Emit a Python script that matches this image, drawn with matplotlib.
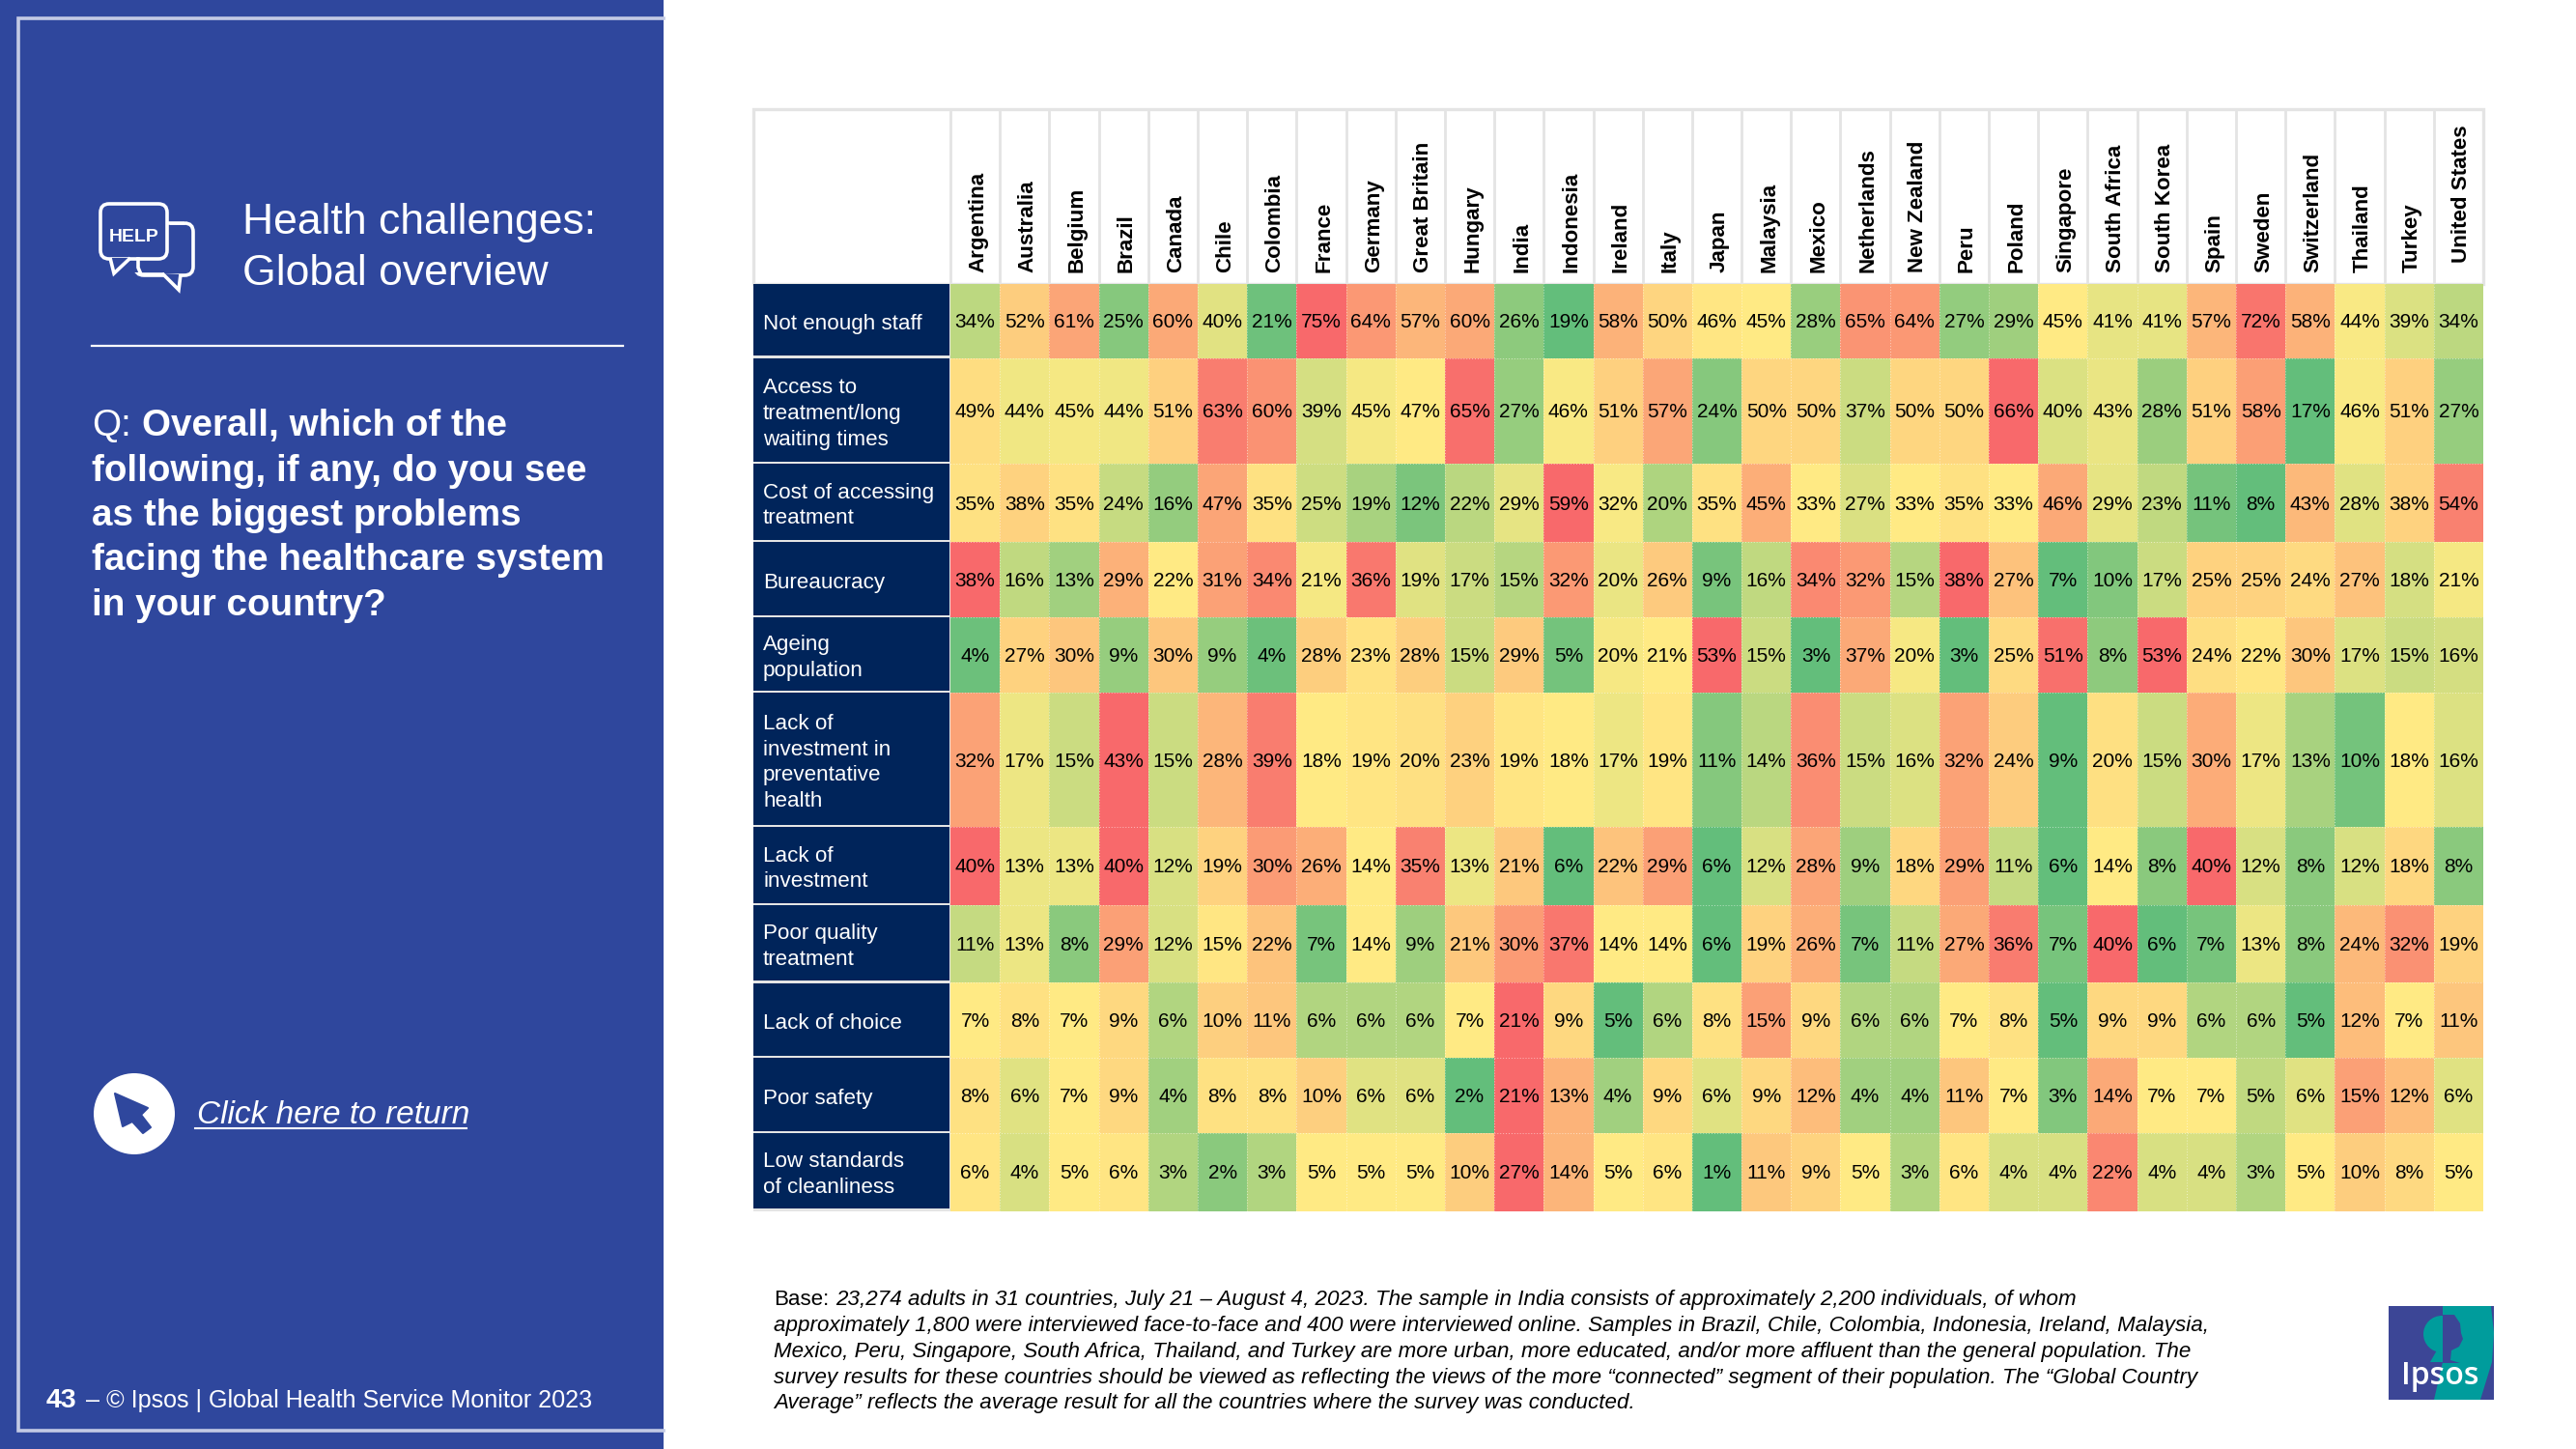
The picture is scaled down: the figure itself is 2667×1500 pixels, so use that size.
import matplotlib
matplotlib.use("Agg")
import matplotlib.pyplot as plt
import numpy as np
from matplotlib.colors import LinearSegmentedColormap
from matplotlib.patches import Circle, FancyBboxPatch, Polygon, Rectangle

plt.rcParams["font.family"] = ["Liberation Sans", "DejaVu Sans"]

countries = [
    "Argentina", "Australia", "Belgium", "Brazil", "Canada", "Chile", "Colombia",
    "France", "Germany", "Great Britain", "Hungary", "India", "Indonesia", "Ireland",
    "Italy", "Japan", "Malaysia", "Mexico", "Netherlands", "New Zealand", "Peru",
    "Poland", "Singapore", "South Africa", "South Korea", "Spain", "Sweden",
    "Switzerland", "Thailand", "Turkey", "United States",
]
problems = [
    "Not enough staff",
    "Access to\ntreatment/long\nwaiting times",
    "Cost of accessing\ntreatment",
    "Bureaucracy",
    "Ageing\npopulation",
    "Lack of\ninvestment in\npreventative\nhealth",
    "Lack of\ninvestment",
    "Poor quality\ntreatment",
    "Lack of choice",
    "Poor safety",
    "Low standards\nof cleanliness",
]
not_enough_staff = [34, 52, 61, 25, 60, 40, 21, 75, 64, 57, 60, 26, 19, 58, 50, 46, 45, 28, 65, 64, 27, 29, 45, 41, 41, 57, 72, 58, 44, 39, 34]
access_to_treatment = [49, 44, 45, 44, 51, 63, 60, 39, 45, 47, 65, 27, 46, 51, 57, 24, 50, 50, 37, 50, 50, 66, 40, 43, 28, 51, 58, 17, 46, 51, 27]
cost_of_access = [35, 38, 35, 24, 16, 47, 35, 25, 19, 12, 22, 29, 59, 32, 20, 35, 45, 33, 27, 33, 35, 33, 46, 29, 23, 11, 8, 43, 28, 38, 54]
bureaucracy = [38, 16, 13, 29, 22, 31, 34, 21, 36, 19, 17, 15, 32, 20, 26, 9, 16, 34, 32, 15, 38, 27, 7, 10, 17, 25, 25, 24, 27, 18, 21]
ageing_population = [4, 27, 30, 9, 30, 9, 4, 28, 23, 28, 15, 29, 5, 20, 21, 53, 15, 3, 37, 20, 3, 25, 51, 8, 53, 24, 22, 30, 17, 15, 16]
preventative_health = [32, 17, 15, 43, 15, 28, 39, 18, 19, 20, 23, 19, 18, 17, 19, 11, 14, 36, 15, 16, 32, 24, 9, 20, 15, 30, 17, 13, 10, 18, 16]
lack_of_investment = [40, 13, 13, 40, 12, 19, 30, 26, 14, 35, 13, 21, 6, 22, 29, 6, 12, 28, 9, 18, 29, 11, 6, 14, 8, 40, 12, 8, 12, 18, 8]
poor_quality = [11, 13, 8, 29, 12, 15, 22, 7, 14, 9, 21, 30, 37, 14, 14, 6, 19, 26, 7, 11, 27, 36, 7, 40, 6, 7, 13, 8, 24, 32, 19]
lack_of_choice = [7, 8, 7, 9, 6, 10, 11, 6, 6, 6, 7, 21, 9, 5, 6, 8, 15, 9, 6, 6, 7, 8, 5, 9, 9, 6, 6, 5, 12, 7, 11]
poor_safety = [8, 6, 7, 9, 4, 8, 8, 10, 6, 6, 2, 21, 13, 4, 9, 6, 9, 12, 4, 4, 11, 7, 3, 14, 7, 7, 5, 6, 15, 12, 6]
low_standards = [6, 4, 5, 6, 3, 2, 3, 5, 5, 5, 10, 27, 14, 5, 6, 1, 11, 9, 5, 3, 6, 4, 4, 22, 4, 4, 3, 5, 10, 8, 5]

rows = [
    not_enough_staff, access_to_treatment, cost_of_access, bureaucracy,
    ageing_population, preventative_health, lack_of_investment, poor_quality,
    lack_of_choice, poor_safety, low_standards,
]

question_lines = ["Overall, which of the", "following, if any, do you see", "as the biggest problems",
                  "facing the healthcare system", "in your country?"]
base_lines = [
    "23,274 adults in 31 countries, July 21 \u2013 August 4, 2023. The sample in India consists of approximately 2,200 individuals, of whom",
    "approximately 1,800 were interviewed face-to-face and 400 were interviewed online. Samples in Brazil, Chile, Colombia, Indonesia, Ireland, Malaysia,",
    "Mexico, Peru, Singapore, South Africa, Thailand, and Turkey are more urban, more educated, and/or more affluent than the general population. The",
    "survey results for these countries should be viewed as reflecting the views of the more \u201cconnected\u201d segment of their population. The \u201cGlobal Country",
    "Average\u201d reflects the average result for all the countries where the survey was conducted.",
]

W, H = 2667, 1500
PANEL = "#2F479D"
NAVY = "#00245A"
GRID = "#E4E4E4"
row_heights = [76.5, 109.5, 81, 78, 78, 139, 81, 80.5, 77.5, 78, 80.5]
top = 294
left = 984
right = 2571
label_left = 780
bottom = top + sum(row_heights)

cmap = LinearSegmentedColormap.from_list("rag", ["#63BE7B", "#FFEB84", "#F8696B"])


def scale_row(values):
    """Excel style 3 colour scale: min, median, max of the row"""
    values = np.array(values, dtype=float)
    low, mid, high = values.min(), np.median(values), values.max()
    return np.interp(values, [low, mid, high], [0, 0.5, 1])


def draw_panel(ax):
    ax.add_patch(Rectangle((0, 0), 687, H, color=PANEL, lw=0))
    frame = "#C3CAE4"
    ax.plot([687, 19, 19, 687], [19, 19, 1481, 1481], color=frame, lw=2.6, solid_joinstyle="miter")
    ax.plot([95, 645], [358, 358], color="white", lw=1.6)

    # speech bubbles
    bubble_back = FancyBboxPatch((140, 231), 60, 54, boxstyle="round,pad=0,rounding_size=9",
                                 fc="none", ec="white", lw=2.6)
    ax.add_patch(bubble_back)
    ax.add_patch(Polygon([[168, 283], [185, 300], [187, 284]], closed=False, fc=PANEL, ec="white", lw=2.6))
    ax.add_patch(Rectangle((138, 226), 38, 56, color=PANEL, lw=0))
    ax.add_patch(Rectangle((172, 222), 20, 8, color=PANEL, lw=0))
    ax.plot([174, 190], [231, 231], color="white", lw=2.6)
    ax.plot([143, 143, 146, 168], [268, 277, 284, 284], color="white", lw=2.6)
    bubble_front = FancyBboxPatch((104, 211), 69, 57, boxstyle="round,pad=0,rounding_size=9",
                                  fc=PANEL, ec="white", lw=2.6)
    ax.add_patch(bubble_front)
    ax.add_patch(Polygon([[114, 267], [118, 283], [135, 267]], closed=False, fc=PANEL, ec="white", lw=2.6, zorder=3))
    ax.text(139, 250, "HELP", color="white", ha="center", va="baseline", fontsize=14, weight="bold", zorder=4)

    ax.text(251, 242, "Health challenges:", color="white", fontsize=32, va="baseline")
    ax.text(251, 295, "Global overview", color="white", fontsize=32, va="baseline")

    ax.text(95, 451, "Q:", color="white", fontsize=27.8, va="baseline")
    for i, line in enumerate(question_lines):
        x = 147 if i == 0 else 95
        ax.text(x, 451 + i * 46.5, line, color="white", fontsize=27.8, weight="bold", va="baseline")

    # return button
    ax.add_patch(Circle((139, 1153), 42, color="white", lw=0))
    ax.add_patch(Polygon([[119, 1132], [153, 1147], [146, 1154], [156, 1167], [148, 1173],
                          [137, 1161], [127, 1166]], fc=PANEL, ec=PANEL, lw=1.5, joinstyle="round"))
    ax.text(204, 1163, "Click here to return", color="white", fontsize=24, style="italic", va="baseline")
    ax.plot([202, 483], [1168, 1168], color="white", lw=1.5)

    ax.text(48, 1457, "43", color="white", fontsize=20.5, weight="bold", va="baseline")
    ax.text(89, 1457, "\u2013 \u00a9 Ipsos | Global Health Service Monitor 2023", color="white", fontsize=18.1, va="baseline")


def draw_logo(ax):
    blue = "#3C4696"
    teal = "#009C9C"
    ax.add_patch(Rectangle((2473, 1352), 109, 97, color=blue, lw=0))
    ax.add_patch(Polygon([[2529, 1352], [2579, 1352], [2582, 1380], [2580, 1410], [2568, 1449],
                          [2520, 1449], [2529, 1410]], color=teal, lw=0))
    # head and tree
    ax.add_patch(Circle((2528, 1381), 19, color=teal, lw=0))
    ax.add_patch(Polygon([[2529, 1361], [2541, 1361], [2547, 1370], [2548, 1380], [2550, 1386], [2546, 1394],
                          [2538, 1398], [2537, 1408], [2547, 1411], [2529, 1411]], color=blue, lw=0))
    ax.add_patch(Polygon([[2524, 1396], [2529, 1396], [2529, 1410], [2516, 1410]], color=teal, lw=0))
    ax.text(2486, 1433, "Ipsos", color="white", fontsize=23, family="Open Sans", weight="semibold", va="baseline")
    ax.add_patch(Rectangle((2582, 1352), 3, 97, color="white", lw=0))


def draw_table(fig, ax):
    # header and label column live in figure pixels
    ax.add_patch(Rectangle((label_left, 113), right - label_left, top - 113, fc="white", ec=GRID, lw=2.4))
    edges = np.linspace(left, right, len(countries) + 1)
    for x in edges[:-1]:
        ax.plot([x, x], [113, top], color=GRID, lw=2)
    for i, name in enumerate(countries):
        # the last header sits a little higher in the source table
        base = 272 if name == "United States" else 282
        ax.text((edges[i] + edges[i + 1]) / 2 + 3, base, name, rotation=90, ha="center", va="bottom",
                fontsize=16.1, weight="bold", color="black", rotation_mode="default")

    y = top
    for name, height in zip(problems, row_heights):
        ax.add_patch(Rectangle((label_left, y), left - label_left, height, fc=GRID, lw=0))
        ax.add_patch(Rectangle((label_left, y), left - label_left - 1, height - 2.4, fc=NAVY, lw=0))
        ax.text(790, y + (height - 2) / 2 + 4, name, color="white", fontsize=16.1, va="center", linespacing=1.36)
        y += height

    # heat map axes
    hm = fig.add_axes([left / W, 1 - bottom / H, (right - left) / W, (bottom - top) / H])
    x_edges = np.arange(len(countries) + 1)
    y_edges = np.concatenate([[0], np.cumsum(row_heights)])
    colours = np.array([scale_row(r) for r in rows])
    hm.pcolormesh(x_edges, y_edges, colours, cmap=cmap, vmin=0, vmax=1)
    hm.set_xlim(0, len(countries))
    hm.set_ylim(y_edges[-1], 0)
    hm.axis("off")
    for r, values in enumerate(rows):
        yc = (y_edges[r] + y_edges[r + 1]) / 2 + 1.5
        for c, value in enumerate(values):
            hm.text(c + 0.5, yc, f"{value}%", ha="center", va="center", fontsize=15, color="black")
    for x in x_edges[1:-1]:
        hm.axvline(x, color="white", lw=0.7, ls=(0, (1, 2)), alpha=0.55)
    for y in y_edges[1:-1]:
        hm.axhline(y, color="white", lw=0.7, ls=(0, (1, 2)), alpha=0.55)


def draw_note(ax):
    ys = [1351, 1378, 1404.5, 1432, 1458]
    ax.text(801, ys[0], "Base:", fontsize=16.1, va="baseline", color="black")
    for i, line in enumerate(base_lines):
        x = 865 if i == 0 else 801
        ax.text(x, ys[i], line, fontsize=16.1, style="italic", va="baseline", color="black")


def main():
    fig = plt.figure(figsize=(W / 100, H / 100), dpi=100, facecolor="white")
    ax = fig.add_axes([0, 0, 1, 1])
    ax.set_xlim(0, W)
    ax.set_ylim(H, 0)
    ax.axis("off")

    draw_panel(ax)
    draw_table(fig, ax)
    draw_note(ax)
    draw_logo(ax)

    fig.savefig("out.png", dpi=100)


if __name__ == "__main__":
    main()
